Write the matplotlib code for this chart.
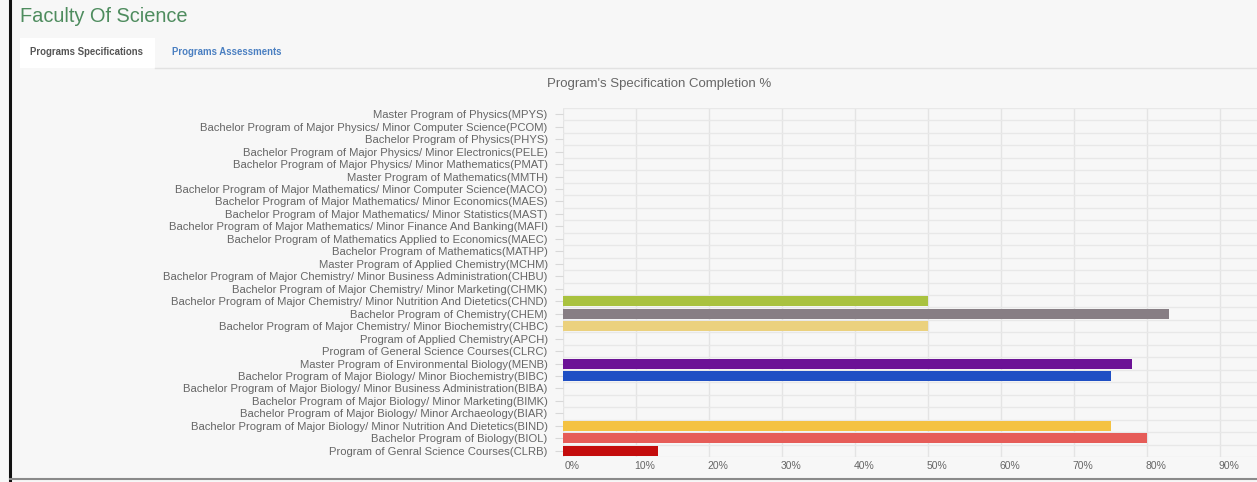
import matplotlib
matplotlib.use("Agg")
import matplotlib.pyplot as plt
import matplotlib.transforms as mtransforms
from matplotlib.patches import Rectangle
from matplotlib.lines import Line2D

plt.rcParams['font.family'] = ['Liberation Sans', 'DejaVu Sans']

categories = [
    "Master Program of Physics(MPYS)",
    "Bachelor Program of Major Physics/ Minor Computer Science(PCOM)",
    "Bachelor Program of Physics(PHYS)",
    "Bachelor Program of Major Physics/ Minor Electronics(PELE)",
    "Bachelor Program of Major Physics/ Minor Mathematics(PMAT)",
    "Master Program of Mathematics(MMTH)",
    "Bachelor Program of Major Mathematics/ Minor Computer Science(MACO)",
    "Bachelor Program of Major Mathematics/ Minor Economics(MAES)",
    "Bachelor Program of Major Mathematics/ Minor Statistics(MAST)",
    "Bachelor Program of Major Mathematics/ Minor Finance And Banking(MAFI)",
    "Bachelor Program of Mathematics Applied to Economics(MAEC)",
    "Bachelor Program of Mathematics(MATHP)",
    "Master Program of Applied Chemistry(MCHM)",
    "Bachelor Program of Major Chemistry/ Minor Business Administration(CHBU)",
    "Bachelor Program of Major Chemistry/ Minor Marketing(CHMK)",
    "Bachelor Program of Major Chemistry/ Minor Nutrition And Dietetics(CHND)",
    "Bachelor Program of Chemistry(CHEM)",
    "Bachelor Program of Major Chemistry/ Minor Biochemistry(CHBC)",
    "Program of Applied Chemistry(APCH)",
    "Program of General Science Courses(CLRC)",
    "Master Program of Environmental Biology(MENB)",
    "Bachelor Program of Major Biology/ Minor Biochemistry(BIBC)",
    "Bachelor Program of Major Biology/ Minor Business Administration(BIBA)",
    "Bachelor Program of Major Biology/ Minor Marketing(BIMK)",
    "Bachelor Program of Major Biology/ Minor Archaeology(BIAR)",
    "Bachelor Program of Major Biology/ Minor Nutrition And Dietetics(BIND)",
    "Bachelor Program of Biology(BIOL)",
    "Program of Genral Science Courses(CLRB)",
]
completion = [0, 0, 0, 0, 0, 0, 0, 0, 0, 0, 0, 0, 0, 0, 0,
              50, 83, 50, 0, 0, 78, 75, 0, 0, 0, 75, 80, 13]
bar_colors = ['#cccccc'] * 15 + ['#a9c23f', '#877e84', '#ebd17e', '#cccccc', '#cccccc',
                                 '#6c1296', '#1f4fc4', '#cccccc', '#cccccc', '#cccccc',
                                 '#f4c242', '#e65c58', '#c40c0c']
x_ticks = [0, 10, 20, 30, 40, 50, 60, 70, 80, 90]
x_tick_labels = [f"{t}%" for t in x_ticks]

W, H = 1257, 482
BG = '#f7f7f7'
fig = plt.figure(figsize=(W / 100, H / 100), dpi=100, facecolor=BG)

def fx(px):
    return px / W

def fy(py):
    return 1 - py / H

# plot area in pixels
L, R, T, B = 563, 1257, 108, 457
ax = fig.add_axes([fx(L), fy(B), fx(R - L), (B - T) / H])
ax.set_facecolor(BG)

n = len(categories)
ypos = list(range(n))
ax.barh(ypos, completion, height=0.8, color=bar_colors, zorder=3)
ax.set_ylim(n - 0.5, -0.5)
ax.set_xlim(0, (R - L) / 7.3)

ax.set_yticks(ypos)
ax.set_yticklabels(categories, fontsize=8.1, color='#666666')
ax.set_xticks(x_ticks)
ax.set_xticklabels(x_tick_labels, fontsize=7.5, color='#666666')
ax.tick_params(axis='y', length=6, width=0.8, color='#d8d8d8', pad=5)
ax.tick_params(axis='x', length=0, pad=3)
offset = mtransforms.ScaledTranslation(9 / 100, 0, fig.dpi_scale_trans)
for lbl in ax.get_xticklabels():
    lbl.set_transform(lbl.get_transform() + offset)

for x in x_ticks:
    ax.axvline(x, color='#e4e4e4', lw=1, zorder=1)
for i in range(n + 1):
    ax.axhline(i - 0.5, color='#e8e8e8', lw=1, zorder=1)
for s in ax.spines.values():
    s.set_visible(False)

# Page header
fig.text(fx(20), fy(17), "Faculty Of Science", fontsize=14.4, color='#4e8c5e',
         ha='left', va='center')
fig.patches.append(Rectangle((fx(20), fy(68)), fx(135), (68 - 38) / H,
                             transform=fig.transFigure, facecolor='#ffffff',
                             edgecolor='none', zorder=0))
fig.lines.append(Line2D([fx(155), fx(1257)], [fy(68), fy(68)],
                        transform=fig.transFigure, color='#e2e2e2', lw=1))
fig.text(fx(30), fy(52), "Programs Specifications", fontsize=6.9, color='#555555',
         ha='left', va='center', fontweight='bold')
fig.text(fx(172), fy(52), "Programs Assessments", fontsize=6.9, color='#4a7fc1',
         ha='left', va='center', fontweight='bold')

fig.text(fx(659), fy(84), "Program's Specification Completion %", fontsize=9.5,
         color='#666666', ha='center', va='center')

# frame
fig.lines.append(Line2D([fx(10), fx(10)], [0, 1], transform=fig.transFigure,
                        color='#111111', lw=2.2))
fig.lines.append(Line2D([fx(10), 1], [fy(479), fy(479)], transform=fig.transFigure,
                        color='#8a8a8a', lw=1.5))

fig.savefig("out.png", dpi=100, facecolor=BG)
